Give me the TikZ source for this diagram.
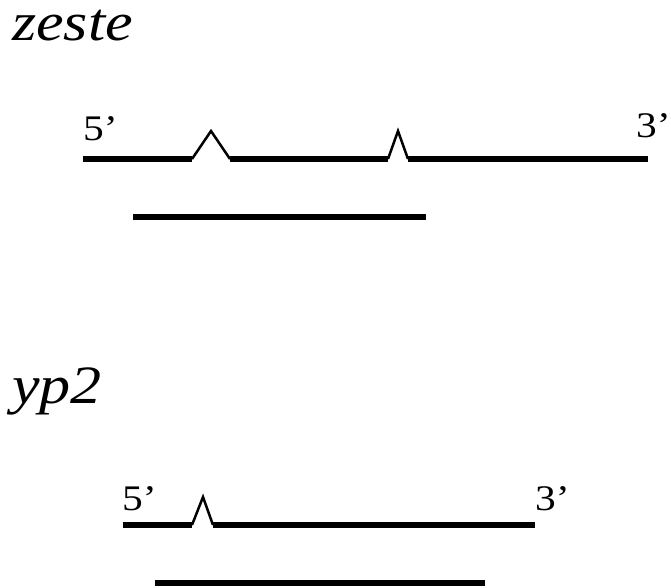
\documentclass[tikz,border=0pt]{standalone}
\usepackage{fontspec}
\setmainfont{Liberation Serif}
\newfontfamily\widefont[FakeStretch=1.15]{Liberation Serif}

\tikzset{
	exon/.style={line width=6pt},
	intron/.style={line width=2.5pt, line join=miter},
	genename/.style={anchor=base west, inner sep=0pt, font=\widefont\fontsize{54}{60}\selectfont\itshape},
	endlabel/.style={anchor=base west, inner sep=0pt, font=\widefont\fontsize{36}{40}\selectfont},
}

\begin{document}
\begin{tikzpicture}[x=1pt,y=-1pt]
			\useasboundingbox (0,0) rectangle (671,587);
			% zeste
			\node[genename] (zname) at (12,40) {zeste};
			\node[endlabel] (zfive) at (83,140) {5’};
			\node[endlabel] (zthree) at (636,137) {3’};
			\draw[exon] (83,159) -- (192,159);
			\draw[intron] (192,159) -- (211,131) -- (230,159);
			\draw[exon] (230,159) -- (388,159);
			\draw[intron] (388,159) -- (398,131) -- (408,159);
			\draw[exon] (408,159) -- (648,159);
			\draw[exon] (133,217) -- (426,217);
			% yp2
			\node[genename] (yname) at (12,403) {yp2};
			\node[endlabel] (yfive) at (122,510) {5’};
			\node[endlabel] (ythree) at (535,510) {3’};
			\draw[exon] (123,525) -- (192,525);
			\draw[intron] (192,525) -- (203,497) -- (213,525);
			\draw[exon] (213,525) -- (535,525);
			\draw[exon] (155,583) -- (485,583);
		\end{tikzpicture}
\end{document}
